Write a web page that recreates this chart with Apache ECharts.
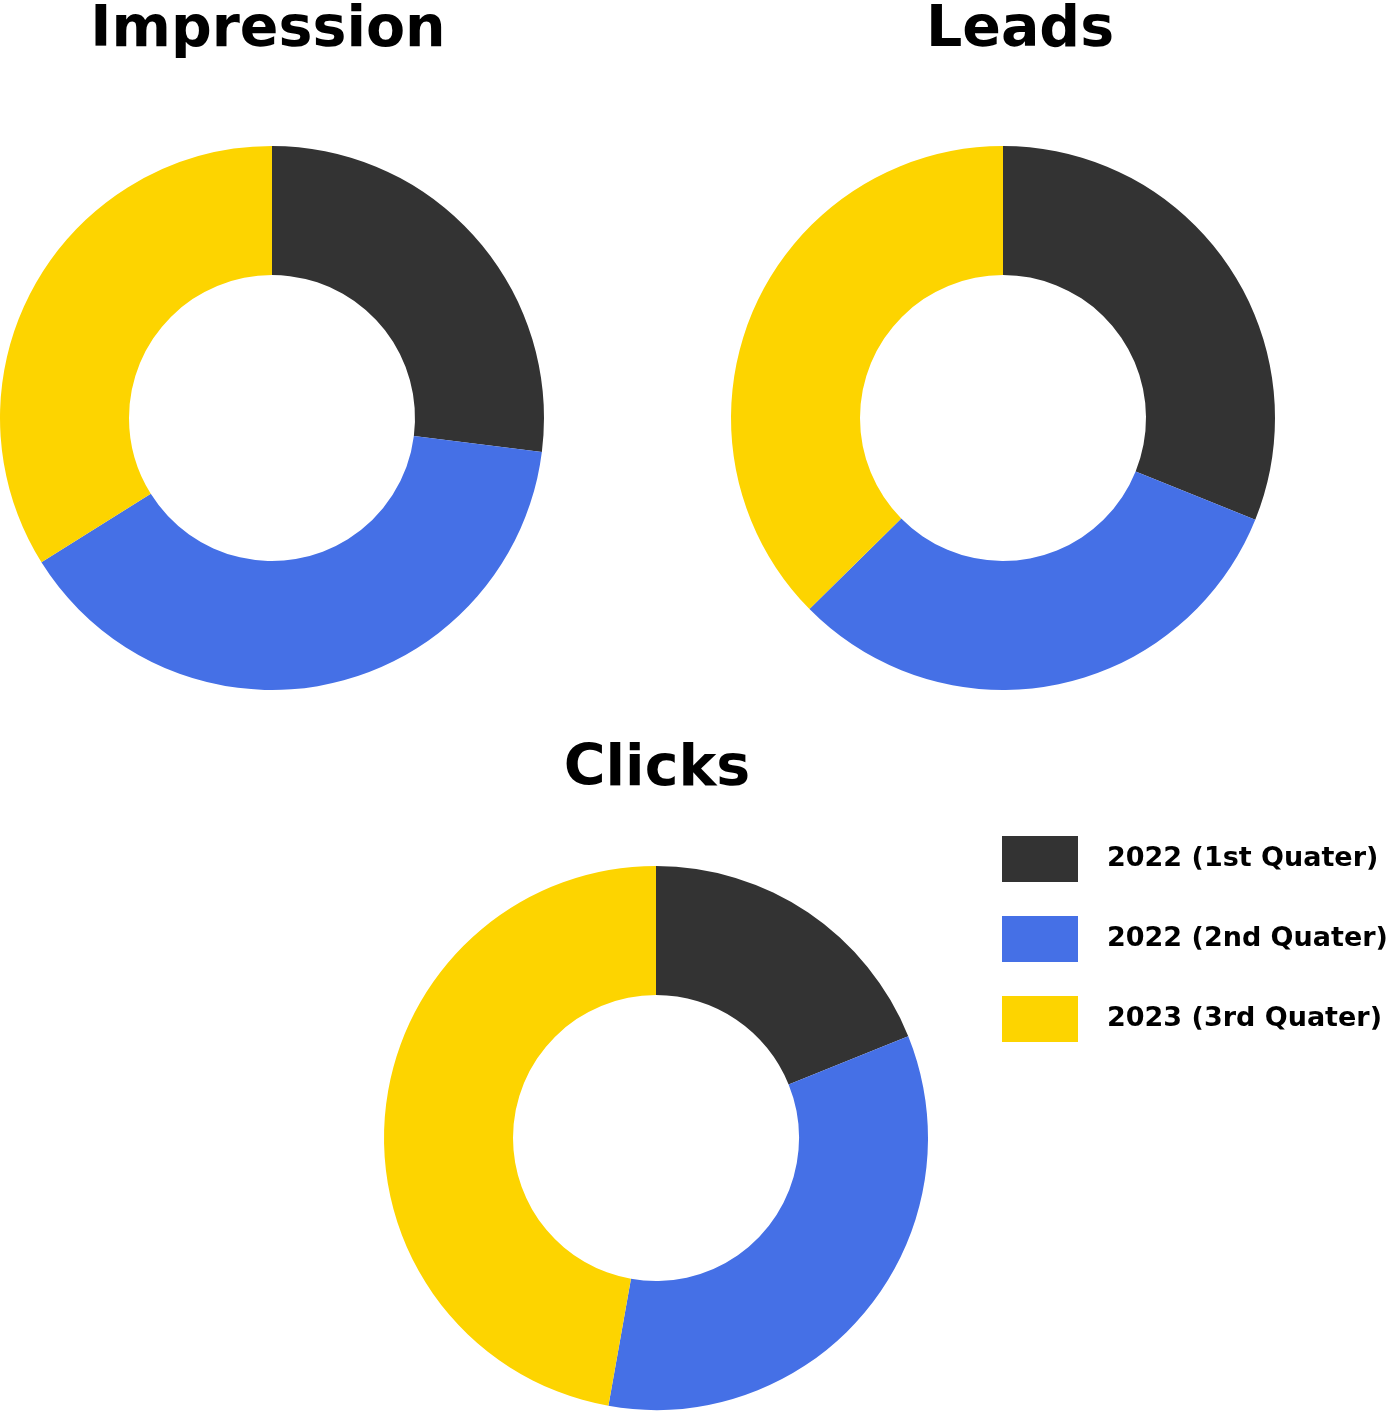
<!DOCTYPE html>
<html>
<head>
<meta charset="utf-8">
<script src="https://cdn.jsdelivr.net/npm/echarts@6/dist/echarts.min.js"></script>
<style>
html,body{margin:0;padding:0;background:#fff;}
#main{width:1393px;height:1411px;}
</style>
</head>
<body>
<div id="main"></div>
<script>
const categories = ['2022 (1st Quater)', '2022 (2nd Quater)', '2023 (3rd Quater)'];
const chartTitles = ['Impression', 'Leads', 'Clicks'];
const impressionValues = [27.0, 39.1, 33.9];
const leadsValues = [31.1, 31.5, 37.4];
const clicksValues = [18.9, 33.9, 47.2];

const colors = ['#333333', '#4570E6', '#FDD400'];
const seriesValues = [impressionValues, leadsValues, clicksValues];
const centers = [[272, 418], [1003, 418], [656, 1138]];
const titlePos = [[268, 3], [1020, 3], [657, 742]];
const titleFont = 'DejaVu Sans';

const chart = echarts.init(document.getElementById('main'));
chart.setOption({
  animation: false,
  color: colors,
  title: chartTitles.map((t, i) => ({
    text: t,
    left: titlePos[i][0],
    top: titlePos[i][1],
    textAlign: 'center',
    padding: 0,
    textStyle: { fontFamily: titleFont, fontWeight: 'bold', fontSize: 57, color: '#000' }
  })),
  legend: {
    orient: 'vertical',
    left: 1002,
    top: 836,
    padding: 0,
    itemWidth: 76,
    itemHeight: 46,
    itemGap: 34,
    icon: 'rect',
    selectedMode: false,
    data: categories,
    textStyle: { fontFamily: titleFont, fontWeight: 'bold', fontSize: 27, color: '#000', padding: [0, 0, 0, 24] }
  },
  series: seriesValues.map((vals, i) => ({
    type: 'pie',
    name: chartTitles[i],
    center: centers[i],
    radius: [143, 272],
    startAngle: 90,
    clockwise: true,
    label: { show: false },
    labelLine: { show: false },
    silent: true,
    itemStyle: { borderWidth: 0 },
    data: categories.map((c, j) => ({ name: c, value: vals[j] }))
  }))
});
</script>
</body>
</html>
